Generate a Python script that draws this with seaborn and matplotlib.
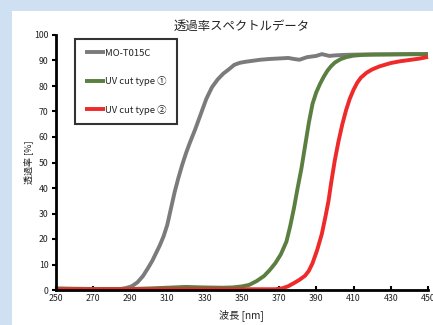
import matplotlib
matplotlib.use("Agg")
import matplotlib.pyplot as plt
import seaborn as sns
import pandas as pd
from matplotlib.patches import Rectangle

sns.set_theme(style="white")
plt.rcParams['font.family'] = ['Noto Sans CJK JP', 'DejaVu Sans']

title = "透過率スペクトルデータ"
xlabel = "波長 [nm]"
ylabel = "透過率 [%]"
series_names = ["MO-T015C", "UV cut type ①", "UV cut type ②"]
colors = ["#7b7b7d", "#5a7f40", "#ee2a2a"]
xticks = [250, 270, 290, 310, 330, 350, 370, 390, 410, 430, 450]
yticks = [0, 10, 20, 30, 40, 50, 60, 70, 80, 90, 100]

grey_x = [250, 260, 270, 280, 285, 288, 291, 294, 297, 300, 302, 304, 306, 308, 310,
          312, 314, 316, 318, 320, 322, 325, 328, 331, 334, 337, 340, 343, 346, 349,
          352, 356, 360, 365, 370, 375, 378, 381, 385, 390, 393, 397, 400, 405, 410,
          420, 430, 440, 450]
grey_y = [0.5, 0.4, 0.3, 0.3, 0.4, 0.8, 1.5, 3.0, 5.5, 9.0, 11.5, 14.5, 17.5, 21.0, 25.5,
          32.0, 38.5, 44.0, 49.0, 53.5, 57.5, 63.0, 69.0, 75.0, 79.5, 82.5, 84.8, 86.5, 88.3, 89.1,
          89.5, 89.9, 90.3, 90.6, 90.8, 91.0, 90.6, 90.3, 91.3, 91.8, 92.5, 91.8, 92.0, 92.2, 92.3,
          92.4, 92.4, 92.5, 92.5]

green_x = [250, 270, 290, 300, 310, 320, 330, 340, 345, 350, 354, 358, 362, 365, 368,
           371, 374, 376, 378, 380, 382, 384, 386, 388, 390, 392, 394, 396, 398, 400,
           403, 406, 410, 415, 420, 430, 450]
green_y = [0.6, 0.4, 0.4, 0.6, 0.9, 1.2, 1.0, 0.9, 1.0, 1.4, 2.0, 3.5, 5.5, 7.8, 10.5,
           14.0, 19.0, 25.0, 32.0, 40.0, 47.5, 56.5, 65.5, 73.0, 77.5, 80.8, 83.6, 86.0, 87.8, 89.2,
           90.5, 91.3, 91.9, 92.2, 92.3, 92.4, 92.5]

red_x = [250, 300, 350, 368, 372, 375, 378, 381, 384, 386, 388, 390.5, 393, 395, 396.6,
         398, 400, 402, 404, 406, 408, 410, 412, 414, 417, 420, 424, 430, 435, 440,
         445, 450]
red_y = [0.3, 0.3, 0.3, 0.3, 0.7, 1.5, 2.7, 4.0, 5.6, 7.5, 10.5, 15.7, 22.0, 29.0, 35.0,
         42.0, 51.0, 58.5, 65.0, 70.5, 75.0, 78.5, 81.3, 83.3, 85.2, 86.5, 87.7, 89.0, 89.7, 90.2,
         90.7, 91.4]

frames = []
for name, xs, ys in zip(series_names, [grey_x, green_x, red_x], [grey_y, green_y, red_y]):
    frames.append(pd.DataFrame({"wl": xs, "T": ys, "series": name}))
df = pd.concat(frames, ignore_index=True)

W, H = 433, 325
fig = plt.figure(figsize=(W / 100, H / 100), dpi=100)
fig.patch.set_facecolor("#cee0f1")
bg = fig.add_axes([12 / W, 0, 1 - 12 / W, 1 - 11 / H], zorder=-5)
bg.set_axis_off()
bg.add_patch(Rectangle((0, 0), 1, 1, transform=bg.transAxes, facecolor="white",
                       edgecolor="none"))

ax = fig.add_axes([55.5 / W, 1 - 290 / H, (428 - 55.5) / W, (290 - 35) / H], zorder=1)
ax.set_facecolor("none")

sns.lineplot(data=df, x="wl", y="T", hue="series", hue_order=series_names,
             palette=dict(zip(series_names, colors)), linewidth=2.8, sort=False,
             estimator=None, ax=ax, clip_on=False)
for ln in ax.get_lines():
    ln.set_solid_joinstyle("round")
    ln.set_solid_capstyle("butt")

ax.set_xlim(250, 450)
ax.set_ylim(0, 100)
ax.set_xticks(xticks)
ax.set_yticks(yticks)
ax.set_xticklabels([str(v) for v in xticks], fontsize=6.3, color="#222222")
ax.set_yticklabels([str(v) for v in yticks], fontsize=6.3, color="#222222")
ax.tick_params(axis="x", direction="in", length=3, width=1.5, color="black", pad=3)
ax.tick_params(axis="y", direction="out", length=3, width=1.5, color="black", pad=2)
ax.tick_params(bottom=True, left=True)
for s in ["top", "right"]:
    ax.spines[s].set_visible(False)
for s in ["left", "bottom"]:
    ax.spines[s].set_color("black")
    ax.spines[s].set_linewidth(2.0)

ax.set_title(title, fontsize=8.9, color="#222222", pad=4)
ax.set_xlabel(xlabel, fontsize=7.3, color="#222222", labelpad=4)
ax.set_ylabel(ylabel, fontsize=6.5, color="#222222", labelpad=1)

handles, labels = ax.get_legend_handles_labels()
leg = ax.legend(handles, labels, loc="upper left", bbox_to_anchor=(0.052, 0.985),
                frameon=True, fancybox=False, shadow=False, fontsize=6.8,
                handlelength=2.1, handletextpad=0.05, labelspacing=1.95,
                borderpad=1.05, borderaxespad=0)
leg.get_frame().set_edgecolor("black")
leg.get_frame().set_linewidth(1.5)
for t in leg.get_texts():
    t.set_color("#222222")

fig.savefig("out.png", dpi=100, facecolor=fig.get_facecolor())
